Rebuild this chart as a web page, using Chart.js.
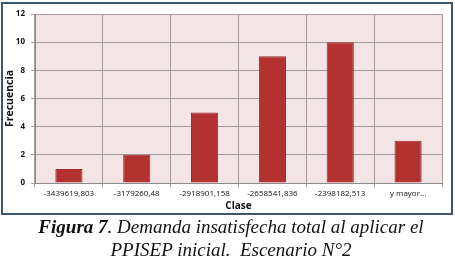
<!DOCTYPE html>
<html>
<head>
<meta charset="utf-8">
<script src="https://cdn.jsdelivr.net/npm/chart.js@4.4.0/dist/chart.umd.min.js"></script>
<style>
  body { margin: 0; background: #fff; width: 455px; height: 265px; overflow: hidden; position: relative; }
  #wrap { position: absolute; left: 0; top: 0; width: 455px; height: 215px; }
  .frame { position: absolute; left: 1px; top: 2px; width: 448px; height: 209px; border: 2px solid #3b5670; pointer-events: none; }
  .caption { position: absolute; left: 0; top: 215px; width: 462px; text-align: center;
    font-family: "Liberation Serif", "DejaVu Serif", serif; font-style: italic; font-size: 19px; line-height: 23px; color: #111; }
</style>
</head>
<body>
<div id="wrap"><canvas id="chart" width="455" height="215"></canvas></div>
<div class="frame"></div>
<div class="caption"><b>Figura 7</b>. Demanda insatisfecha total al aplicar el<br>PPISEP inicial.&nbsp; Escenario N°2</div>
<script>
const clases = ['-3439619,803', '-3179260,48', '-2918901,158', '-2658541,836', '-2398182,513', 'y mayor...'];
const frecuencia = [1, 2, 5, 9, 10, 3];
const yTicks = [0, 2, 4, 6, 8, 10, 12];

// pink plot background
const plotBg = {
  id: 'plotBg',
  beforeDraw(chart) {
    const a = chart.chartArea;
    const ctx = chart.ctx;
    ctx.save();
    ctx.fillStyle = '#f3e5e5';
    ctx.fillRect(a.left, a.top, a.right - a.left, a.bottom - a.top);
    ctx.restore();
  }
};

const ctx = document.getElementById('chart').getContext('2d');
new Chart(ctx, {
  type: 'bar',
  data: {
    labels: clases,
    datasets: [{
      label: 'Frecuencia',
      data: frecuencia,
      backgroundColor: '#b33131',
      borderColor: '#9e2a2a',
      borderWidth: 1,
      barPercentage: 0.4,
      categoryPercentage: 1
    }]
  },
  options: {
    responsive: false,
    animation: false,
    layout: { padding: { left: 4, right: 13, top: 14, bottom: 3 } },
    plugins: { legend: { display: false }, tooltip: { enabled: false } },
    scales: {
      x: {
        grid: { color: '#a39c9c', lineWidth: 1, tickLength: 4, offset: true },
        border: { color: '#8c8c8c' },
        ticks: { color: '#111', font: { family: 'Open Sans', size: 8 }, maxRotation: 0, autoSkip: false, padding: 2 },
        title: { display: true, text: 'Clase', color: '#111', font: { family: 'Open Sans', size: 10, weight: 'bold' }, padding: { top: 3, bottom: 0 } },
        afterFit(scale) { scale.height = 29; }
      },
      y: {
        min: 0,
        max: 12,
        afterBuildTicks(scale) { scale.ticks = yTicks.map(v => ({ value: v })); },
        grid: { color: '#a39c9c', lineWidth: 1, tickLength: 4 },
        border: { color: '#8c8c8c' },
        ticks: { color: '#111', font: { family: 'Open Sans', size: 8, weight: 'bold' }, padding: 6 },
        title: { display: true, text: 'Frecuencia', color: '#111', font: { family: 'Open Sans', size: 10.5, weight: 'bold' }, padding: 0 },
        afterFit(scale) { scale.width = 31; }
      }
    }
  },
  plugins: [plotBg]
});
</script>
</body>
</html>
